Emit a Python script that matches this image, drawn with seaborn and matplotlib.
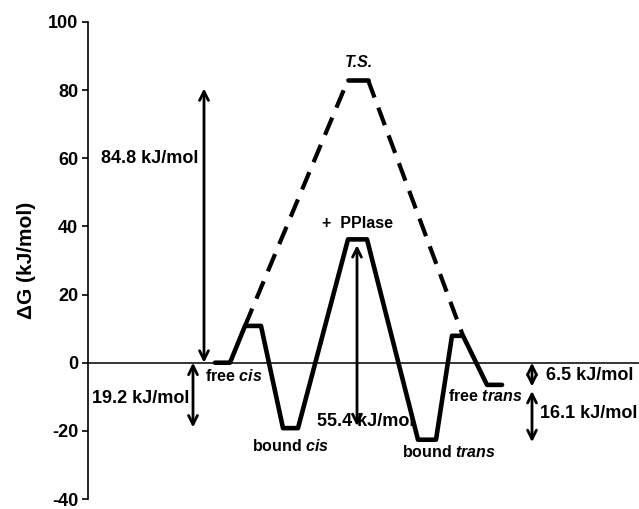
import matplotlib
matplotlib.use("Agg")
import matplotlib.pyplot as plt
import seaborn as sns
import pandas as pd

# energy profile (reaction coordinate in arbitrary units, dG in kJ/mol)
path_x = [215, 230, 245, 261, 283, 298, 348, 367, 418, 436, 452, 463, 487, 502]
path_y = [0, 0, 10.8, 10.8, -19.2, -19.2, 36.2, 36.2, -22.6, -22.6, 7.9, 7.9, -6.5, -6.5]

# uncatalysed path through the transition state
ts_left_x = [245, 348]
ts_left_y = [10.8, 83.0]
ts_right_x = [368, 463]
ts_right_y = [83.0, 7.9]
ts_flat_x = [348, 368]
ts_flat_y = [83.0, 83.0]

# double arrows: x, y start, y end
arrows = [(204, 0, 80.5), (193, 0, -19.0), (357, 34.5, -18.6), (532, 0, -7.0), (532, -8.3, -23.3)]

# energy differences
labels = [
    ("84.8 kJ/mol", 150, 60.0),
    ("19.2 kJ/mol", 141, -10.5),
    ("55.4 kJ/mol", 366, -17.3),
    ("6.5 kJ/mol", 590, -3.8),
    ("16.1 kJ/mol", 589, -15.0),
]

# state names: plain part, italic part, x, y
states = [
    ("free ", "cis", 234, -3.8),
    ("bound ", "cis", 291, -24.4),
    ("free ", "trans", 485, -9.9),
    ("bound ", "trans", 449, -26.2),
]

sns.set_style("white")
plt.rcParams["font.family"] = ["Liberation Sans", "DejaVu Sans"]
plt.rcParams["text.color"] = "black"
plt.rcParams["axes.labelcolor"] = "black"
plt.rcParams["ytick.color"] = "black"
plt.rcParams["axes.unicode_minus"] = False
plt.rcParams["mathtext.fontset"] = "custom"
plt.rcParams["mathtext.bfit"] = "Liberation Sans:italic:bold"
plt.rcParams["mathtext.bf"] = "Liberation Sans:bold"
plt.rcParams["mathtext.rm"] = "Liberation Sans"

fig = plt.figure(figsize=(6.39, 5.09), dpi=100)
ax = fig.add_axes([88 / 639, 10 / 509, 551 / 639, 477 / 509])

df = pd.DataFrame({"x": path_x, "y": path_y})
sns.lineplot(data=df, x="x", y="y", sort=False, color="black", linewidth=3.3, ax=ax)
for xs, ys in [(ts_left_x, ts_left_y), (ts_right_x, ts_right_y)]:
    sns.lineplot(x=xs, y=ys, sort=False, color="black", linewidth=3.0, ax=ax,
                 linestyle=(0, (4.5, 2.6)))
sns.lineplot(x=ts_flat_x, y=ts_flat_y, sort=False, color="black", linewidth=3.3, ax=ax)

ax.axhline(0, color="black", linewidth=1.1, zorder=0)

for x, y0, y1 in arrows:
    ax.annotate("", xy=(x, y1), xytext=(x, y0),
                arrowprops=dict(arrowstyle="<->", lw=2.0, color="black",
                                mutation_scale=16, shrinkA=0, shrinkB=0))

for txt, x, y in labels:
    ax.text(x, y, txt, ha="center", va="center", fontsize=13, fontweight="bold")

for plain, ital, x, y in states:
    ax.text(x, y, plain + "$\\mathbfit{" + ital + "}$", ha="center", va="center",
            fontsize=11.5, fontweight="bold")
ax.text(358, 41.0, "+  PPIase", ha="center", va="center", fontsize=11.5, fontweight="bold")
ax.text(359, 88.0, "T.S.", ha="center", va="center", fontsize=11.5, fontweight="bold", style="italic")

ax.set_xlim(88, 639)
ax.set_ylim(-40, 100)
ax.set_yticks([-40, -20, 0, 20, 40, 60, 80, 100])
ax.set_xticks([])
ax.set_xlabel("")
ax.set_ylabel("ΔG (kJ/mol)", fontsize=15, fontweight="bold", labelpad=9)
for lab in ax.get_yticklabels():
    lab.set_fontweight("bold")
ax.tick_params(axis="y", direction="out", length=4, width=1.2, labelsize=13, left=True, pad=3)
for side in ["top", "right", "bottom"]:
    ax.spines[side].set_visible(False)
ax.spines["left"].set_linewidth(1.2)
ax.spines["left"].set_color("black")
ax.patch.set_alpha(0)

fig.savefig("out.png", dpi=100)
